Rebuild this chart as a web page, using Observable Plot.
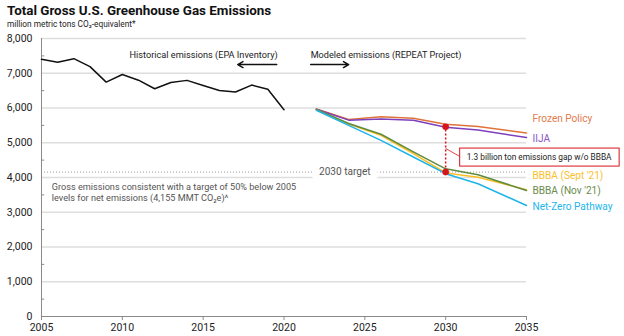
<!DOCTYPE html>
<html>
<head>
<meta charset="utf-8">
<script src="https://cdn.jsdelivr.net/npm/d3@7"></script>
<script src="https://cdn.jsdelivr.net/npm/@observablehq/plot@0.6"></script>
<style>
  html, body { margin: 0; padding: 0; background: #fff; }
  body { width: 624px; height: 336px; overflow: hidden; font-family: Roboto, sans-serif; }
  #head { height: 30px; padding-left: 7px; box-sizing: border-box; }
  #title { font-size: 13.4px; font-weight: 700; line-height: 16px; color: #111; padding-top: 3px; }
  #subtitle { font-size: 8.3px; line-height: 10px; color: #222; }
  #chart svg { display: block; overflow: visible; }
</style>
</head>
<body>
<div id="head">
  <div id="title">Total Gross U.S. Greenhouse Gas Emissions</div>
  <div id="subtitle">million metric tons CO₂-equivalent*</div>
</div>
<div id="chart"></div>
<script>
// ---------- data ----------
const histYears = [2005,2006,2007,2008,2009,2010,2011,2012,2013,2014,2015,2016,2017,2018,2019,2020];
const histValues = [7400,7315,7420,7190,6745,6965,6800,6555,6735,6795,6645,6505,6460,6660,6540,5950];

const modelYears = [2022,2024,2026,2028,2030,2032,2035];
const frozenPolicy = [5970,5670,5750,5705,5530,5470,5280];
const iija        = [5965,5650,5685,5645,5445,5365,5150];
const bbbaSept    = [5950,5540,5215,4690,4130,4010,3645];
const bbbaNov     = [5960,5555,5245,4735,4250,4080,3625];
const netZero     = [5935,5500,5070,4590,4110,3820,3195];

const seriesNames  = ["Frozen Policy","IIJA","BBBA (Sept '21)","BBBA (Nov '21)","Net-Zero Pathway"];
const seriesData   = [frozenPolicy, iija, bbbaSept, bbbaNov, netZero];
const lineColors   = ["#E0733A","#7D3FBD","#FBBF24","#5E8B3E","#1EB4EA"];
const labelColors  = ["#E07B4E","#8A55C6","#FBC02D","#6B8B4B","#22B5EC"];
const labelValues  = [5694, 5117, 4058, 3605, 3144];

const target = 4155;
const gapTop = 5460;
const gapYear = 2030;

const yTicks = [0,1000,2000,3000,4000,5000,6000,7000,8000];
const yMinor = [500,1500,2500,3500,4500,5500,6500,7500];
const xTicks = [2005,2010,2015,2020,2025,2030,2035];

// ---------- tables ----------
const hist = histYears.map((year, i) => ({year, value: histValues[i]}));
const modeled = seriesNames.flatMap((name, s) =>
  modelYears.map((year, i) => ({name, year, value: seriesData[s][i]})));
const labels = seriesNames.map((name, s) => ({name, value: labelValues[s], color: labelColors[s]}));

const plot = Plot.plot({
  width: 624,
  height: 306,
  marginLeft: 41,
  marginRight: 98,
  marginTop: 8,
  marginBottom: 20,
  style: {fontFamily: "Roboto, sans-serif", background: "#fff", overflow: "visible"},
  x: {domain: [2005, 2035], axis: null},
  y: {domain: [0, 8000], axis: null},
  color: {domain: seriesNames, range: lineColors},
  marks: [
    Plot.ruleY(yTicks.slice(1), {x1: 2005, x2: 2035, stroke: "#dedede", strokeWidth: 1.5}),
    Plot.ruleY([target], {x1: 2005, x2: 2035, stroke: "#9a9a9a", strokeWidth: 1, strokeDasharray: "1,2"}),
    Plot.ruleX([2005], {y1: 0, y2: 8000, stroke: "#8a8a8a", strokeWidth: 1}),
    Plot.ruleY(yMinor, {x1: 2005, x2: 2005.2, stroke: "#8a8a8a"}),
    Plot.ruleY([0], {x1: 2005, x2: 2035, stroke: "#8a8a8a", strokeWidth: 1.2}),
    Plot.axisY({ticks: yTicks, tickSize: 0, tickPadding: 9, tickFormat: d3.format(","), fontSize: 10.5, color: "#222"}),
    Plot.axisX({ticks: xTicks, tickSize: 4, tickPadding: 3, tickFormat: d => String(d), fontSize: 10.5, color: "#222", stroke: "#8a8a8a"}),
    // 2030 target label with white knockout
    Plot.text(["2030 target"], {x: 2023.76, y: target, text: d => d, fill: "#555", fontSize: 10.1, stroke: "white", strokeWidth: 15, paintOrder: "stroke"}),
    // left note
    Plot.text(["Gross emissions consistent with a target of 50% below 2005\nlevels for net emissions (4,155 MMT CO₂e)^"],
      {x: 2005.64, y: 3590, text: d => d, textAnchor: "start", fill: "#555", fontSize: 9.15, lineHeight: 1.2}),
    // historical
    Plot.line(hist, {x: "year", y: "value", stroke: "#111", strokeWidth: 1.5}),
    // modeled
    Plot.line(modeled, {x: "year", y: "value", z: "name", stroke: "name", strokeWidth: 1.5}),
    // labels at top
    Plot.text(["Historical emissions (EPA Inventory)"], {x: 2019.61, y: 7520, text: d => d, textAnchor: "end", fill: "#222", fontSize: 9.2}),
    Plot.text(["Modeled emissions (REPEAT Project)"], {x: 2021.65, y: 7520, text: d => d, textAnchor: "start", fill: "#222", fontSize: 9.1}),
    Plot.arrow([{x1: 2019.55, x2: 2017.14, y: 7251}], {x1: "x1", x2: "x2", y1: "y", y2: "y", stroke: "#111", strokeWidth: 1.5, headLength: 6}),
    Plot.arrow([{x1: 2021.65, x2: 2024.0, y: 7251}], {x1: "x1", x2: "x2", y1: "y", y2: "y", stroke: "#111", strokeWidth: 1.5, headLength: 6}),
    // gap annotation
    Plot.ruleX([gapYear], {y1: target, y2: gapTop, stroke: "#D8141B", strokeWidth: 1.5, strokeDasharray: "2,2"}),
    Plot.link([{x1: gapYear, y1: 4836, x2: 2030.93, y2: 4590}], {x1: "x1", y1: "y1", x2: "x2", y2: "y2", stroke: "#D8141B", strokeWidth: 0.8}),
    Plot.dot([gapTop, target], {x: gapYear, y: d => d, r: 3.3, fill: "#D8141B"}),
    Plot.text(["1.3 billion ton emissions gap w/o BBBA"], {x: 2035.78, y: 4578, text: d => d, fill: "#222", fontSize: 8.3, className: "gapnote"}),
    // series labels
    Plot.text(labels, {x: 2035, y: "value", text: "name", fill: "color", dx: 6, textAnchor: "start", fontSize: 10.1})
  ]
});
document.getElementById("chart").appendChild(plot);

// draw the framed box around the gap note
const g = plot.querySelector(".gapnote");
if (g) {
  const t = g.querySelector("text");
  const bb = t.getBBox();
  const padX = 7, padY = 4;
  const rect = document.createElementNS("http://www.w3.org/2000/svg", "rect");
  rect.setAttribute("x", bb.x - padX);
  rect.setAttribute("y", bb.y - padY);
  rect.setAttribute("width", bb.width + 2 * padX);
  rect.setAttribute("height", bb.height + 2 * padY);
  rect.setAttribute("fill", "white");
  rect.setAttribute("stroke", "#D8141B");
  rect.setAttribute("stroke-width", "1");
  const tf = t.getAttribute("transform");
  if (tf) rect.setAttribute("transform", tf);
  g.insertBefore(rect, t);
}
</script>
</body>
</html>
